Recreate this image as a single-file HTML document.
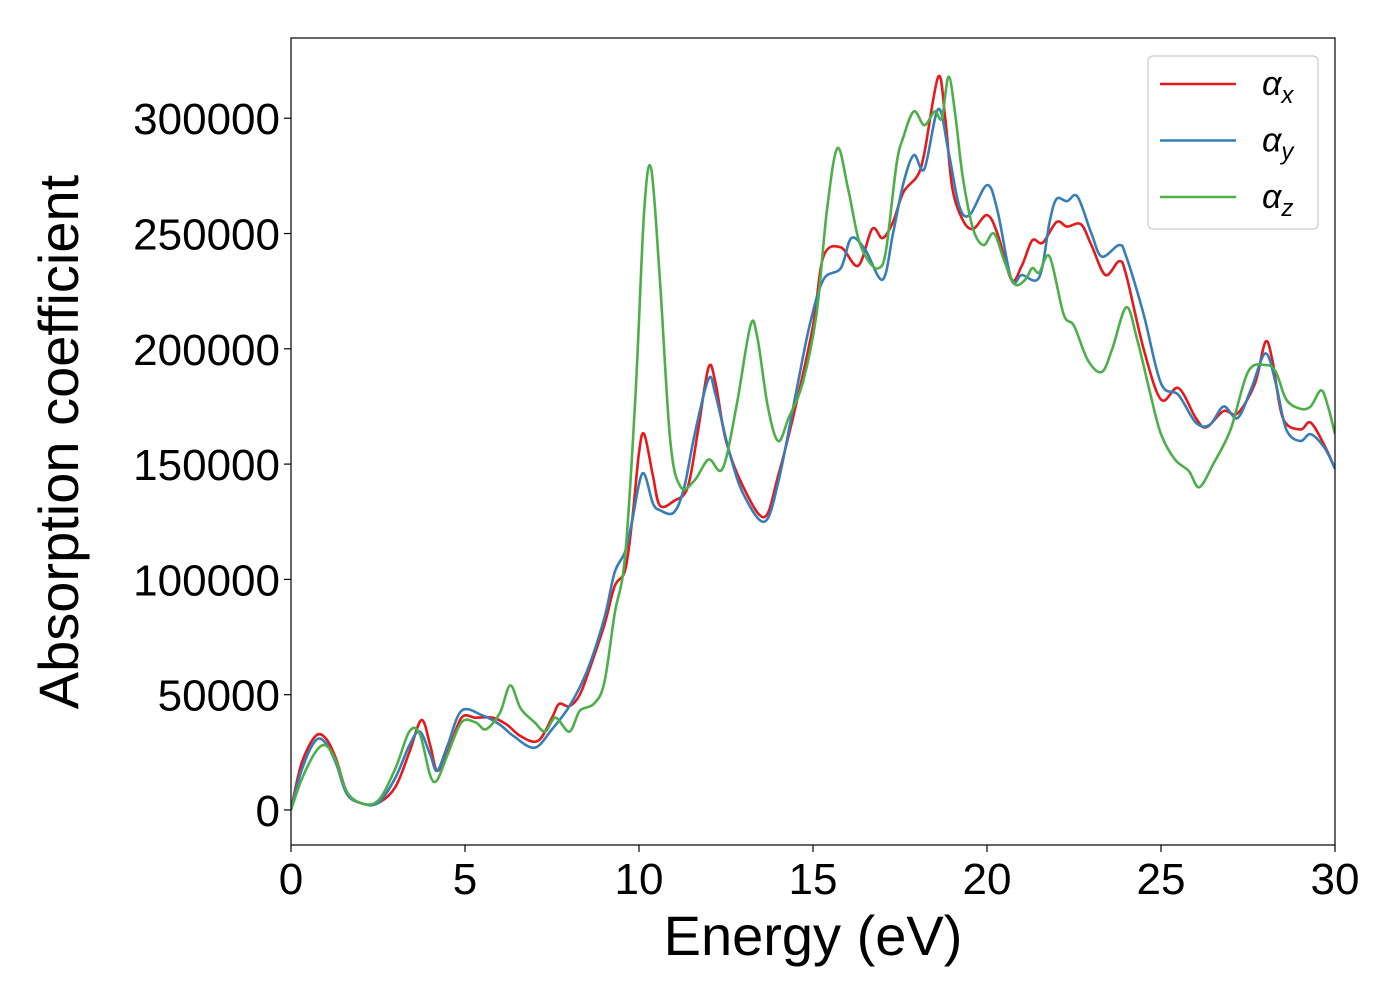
<!DOCTYPE html>
<html><head><meta charset="utf-8"><style>
body{margin:0;background:#fff;}
svg{display:block;font-family:"Liberation Sans","DejaVu Sans",sans-serif;}
</style></head><body>
<svg id="chart" width="1400" height="1000">
<rect x="0" y="0" width="1400" height="1000" fill="#fff"/>
<g id="plot"></g>
<g id="axes"></g>
</svg>
<script>
const energyX=[0,0.3,0.7,1.0,1.3,1.6,2.0,2.5,3.0,3.4,3.75,4.0,4.2,4.5,4.9,5.3,5.8,6.2,6.6,7.1,7.5,7.7,8.0,8.3,8.6,9.0,9.3,9.6,9.8,10.0,10.15,10.4,10.6,11.0,11.4,11.7,12.0,12.2,12.5,13.0,13.6,14.0,14.5,15.0,15.3,15.8,16.3,16.7,17.0,17.3,17.6,18.0,18.2,18.6,18.8,19.0,19.3,19.6,20.0,20.3,20.7,21.0,21.3,21.6,22.0,22.3,22.7,23.0,23.4,23.8,24.0,24.5,25.0,25.5,26.0,26.3,26.8,27.2,27.7,28.0,28.2,28.5,29.0,29.3,29.7,30];
const alphaX=[0,20000,32000,31000,22000,8000,3000,3000,10000,25000,39000,28000,17000,25000,40000,40000,40000,37000,32000,30000,40000,46000,45000,50000,62000,80000,97000,104000,125000,155000,163000,145000,132000,134000,140000,165000,192000,185000,160000,140000,127000,145000,175000,210000,240000,244000,236000,252000,248000,255000,268000,275000,285000,318000,300000,270000,256000,252000,258000,250000,230000,236000,247000,246000,255000,253000,254000,245000,232000,238000,232000,200000,178000,183000,170000,166000,173000,172000,185000,203000,195000,170000,165000,168000,158000,148000];
const energyY=[0,0.3,0.7,1.0,1.3,1.6,2.0,2.5,3.0,3.4,3.7,4.0,4.2,4.5,4.9,5.5,6.0,6.4,7.0,7.5,8.0,8.5,9.0,9.3,9.6,9.8,10.1,10.4,10.6,11.0,11.3,11.6,12.0,12.2,12.6,13.0,13.6,14.0,14.5,14.9,15.3,15.8,16.1,16.5,17.0,17.3,17.6,17.9,18.2,18.6,18.9,19.2,19.5,20.0,20.3,20.7,21.0,21.5,21.8,22.0,22.3,22.6,23.0,23.3,23.8,24.0,24.5,25.0,25.5,26.0,26.4,26.8,27.2,27.6,28.0,28.3,28.6,29.0,29.3,29.7,30];
const alphaY=[0,17000,30000,29000,20000,7000,3000,3000,14000,28000,34000,24000,17000,28000,43000,41000,37000,32000,27000,35000,45000,60000,83000,103000,112000,125000,146000,133000,130000,129000,140000,163000,187000,180000,155000,137000,125000,142000,180000,210000,230000,235000,248000,243000,230000,250000,272000,284000,278000,304000,285000,262000,258000,271000,260000,230000,232000,231000,255000,265000,264000,266000,250000,240000,245000,240000,215000,185000,180000,168000,167000,175000,170000,183000,198000,185000,165000,160000,163000,157000,148000];
const energyZ=[0,0.3,0.7,1.0,1.3,1.6,2.0,2.5,3.0,3.4,3.7,4.0,4.2,4.5,4.9,5.3,5.6,6.0,6.3,6.6,7.0,7.3,7.6,8.0,8.3,8.7,9.0,9.3,9.6,9.9,10.15,10.35,10.6,10.9,11.2,11.6,12.0,12.4,12.8,13.2,13.4,13.7,14.0,14.3,14.7,15.1,15.4,15.7,16.0,16.3,16.6,16.9,17.1,17.4,17.6,17.9,18.2,18.5,18.7,18.9,19.1,19.3,19.6,19.9,20.2,20.5,20.8,21.1,21.3,21.5,21.8,22.2,22.5,22.9,23.3,23.6,24.0,24.3,24.7,25.0,25.4,25.8,26.1,26.5,27.0,27.5,28.0,28.3,28.6,29.0,29.3,29.6,29.8,30];
const alphaZ=[0,13000,25000,28000,21000,8000,3000,4000,18000,34000,33000,15000,13000,24000,38000,38000,35000,42000,54000,44000,38000,34000,40000,34000,43000,46000,55000,85000,110000,180000,260000,278000,230000,160000,140000,143000,152000,148000,175000,210000,205000,175000,160000,170000,185000,215000,260000,287000,270000,248000,238000,235000,243000,280000,292000,303000,297000,303000,300000,318000,300000,275000,252000,245000,250000,238000,228000,230000,235000,233000,240000,215000,210000,195000,190000,200000,218000,205000,180000,163000,152000,147000,140000,150000,165000,190000,193000,190000,178000,174000,175000,182000,175000,163000];
const xTicks=[0,5,10,15,20,25,30];
const yTicks=[0,50000,100000,150000,200000,250000,300000];
const seriesNames=["α","α","α"];
const seriesSubs=["x","y","z"];

const L=291,R=1335,T=38,B=845;
const xMin=0,xMax=30,yMin=-15200,yMax=334800;
const sx=v=>L+(v-xMin)/(xMax-xMin)*(R-L);
const sy=v=>B-(v-yMin)/(yMax-yMin)*(B-T);
const NS="http://www.w3.org/2000/svg";
function mk(tag,attrs,parent){const e=document.createElementNS(NS,tag);for(const k in attrs)e.setAttribute(k,attrs[k]);parent.appendChild(e);return e;}
function pathFor(xs,ys){
  const p=xs.map((x,i)=>[sx(x),sy(ys[i])]);
  let d=`M${p[0][0].toFixed(1)},${p[0][1].toFixed(1)}`;
  for(let i=0;i<p.length-1;i++){
    const p0=p[Math.max(0,i-1)],p1=p[i],p2=p[i+1],p3=p[Math.min(p.length-1,i+2)];
    const c1=[p1[0]+(p2[0]-p0[0])/6,p1[1]+(p2[1]-p0[1])/6];
    const c2=[p2[0]-(p3[0]-p1[0])/6,p2[1]-(p3[1]-p1[1])/6];
    d+=`C${c1[0].toFixed(1)},${c1[1].toFixed(1)} ${c2[0].toFixed(1)},${c2[1].toFixed(1)} ${p2[0].toFixed(1)},${p2[1].toFixed(1)}`;
  }
  return d;
}
const plot=document.getElementById('plot');
const axes=document.getElementById('axes');
const clip=mk('clipPath',{id:'pc'},mk('defs',{},plot));
mk('rect',{x:L,y:T,width:R-L,height:B-T},clip);
const g=mk('g',{'clip-path':'url(#pc)'},plot);
const colors=["#e41a1c","#377eb8","#4daf4a"];
const data=[[energyX,alphaX],[energyY,alphaY],[energyZ,alphaZ]];
data.forEach((s,i)=>{
  const p=mk('path',{d:pathFor(s[0],s[1]),fill:'none',stroke:colors[i],'stroke-width':2.6},g);
  
  
});
const frame=mk('rect',{x:L,y:T,width:R-L,height:B-T,fill:'none',stroke:'#000','stroke-width':1.2},axes);


xTicks.forEach(v=>{
  const x=sx(v);
  mk('line',{x1:x,x2:x,y1:B,y2:B+7,stroke:'#000','stroke-width':1.2},axes);
  const t=mk('text',{x:x,y:B+49,'font-size':44,'text-anchor':'middle',fill:'#000'},axes);
  t.textContent=v;
  
  
});
yTicks.forEach(v=>{
  const y=sy(v);
  mk('line',{x1:L-7,x2:L,y1:y,y2:y,stroke:'#000','stroke-width':1.2},axes);
  const t=mk('text',{x:L-11,y:y+16,'font-size':44,'text-anchor':'end',fill:'#000'},axes);
  t.textContent=v;
  
  
});
const xt=mk('text',{x:(L+R)/2,y:955,'font-size':56,'text-anchor':'middle',fill:'#000'},axes);
xt.textContent='Energy (eV)';


const yt=mk('text',{x:0,y:0,'font-size':56,'text-anchor':'middle',fill:'#000',transform:'translate(78,442) rotate(-90)'},axes);
yt.textContent='Absorption coefficient';


const lg=mk('g',{},axes);


mk('rect',{x:1148,y:56,width:170,height:173,rx:5,fill:'#fff',stroke:'#ccc','stroke-width':1.2},lg);
seriesSubs.forEach((s,i)=>{
  const y=84+i*56.5;
  const ln=mk('line',{x1:1160,x2:1236,y1:y,y2:y,stroke:colors[i],'stroke-width':2.6},lg);
  
  
  const t=mk('text',{x:1262,y:y+11,'font-size':34,fill:'#000','font-style':'italic'},lg);
  
  
  t.textContent=seriesNames[i];
  const sb=mk('tspan',{'font-size':24,dy:8},t);
  sb.textContent=s;
});
</script>
</body></html>
